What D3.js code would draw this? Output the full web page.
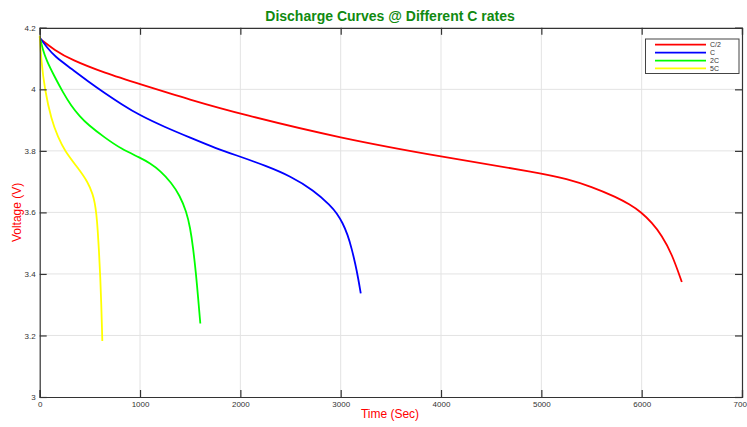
<!DOCTYPE html>
<html>
<head>
<meta charset="utf-8">
<script src="https://cdn.jsdelivr.net/npm/d3@7"></script>
<style>
  html, body { margin: 0; padding: 0; background: #fff; }
  svg { display: block; font-family: "Liberation Sans", Arial, sans-serif; }
</style>
</head>
<body>
<svg id="chart" width="747" height="427"></svg>
<script>
// Discharge time (s) and cell voltage (V) for each C rate
const seriesNames = ["C/2", "C", "2C", "5C"];
const seriesColors = ["#ff0000", "#0000ff", "#00ff00", "#ffff00"];

const halfC_t = [0, 150, 315, 648, 1000, 1500, 2000, 3000, 4000, 5000, 5250, 5500, 5750, 5875, 6000, 6100, 6200, 6300, 6400];
const halfC_v = [4.165, 4.127, 4.096, 4.053, 4.017, 3.966, 3.920, 3.841, 3.781, 3.728, 3.709, 3.684, 3.649, 3.627, 3.600, 3.567, 3.526, 3.466, 3.374];

const oneC_t = [0, 75, 150, 315, 482, 648, 814, 1000, 1250, 1500, 1750, 2000, 2250, 2500, 2730, 2900, 2960, 3020, 3070, 3110, 3145, 3175, 3200];
const oneC_v = [4.168, 4.135, 4.107, 4.067, 4.026, 3.988, 3.952, 3.915, 3.877, 3.843, 3.809, 3.781, 3.752, 3.718, 3.672, 3.622, 3.598, 3.566, 3.527, 3.482, 3.434, 3.385, 3.337];

const twoC_t = [0, 30, 66, 150, 232, 315, 400, 482, 648, 814, 1000, 1100, 1200, 1312, 1396, 1462, 1500, 1528, 1558, 1578, 1601];
const twoC_v = [4.170, 4.130, 4.095, 4.040, 3.990, 3.946, 3.912, 3.885, 3.843, 3.806, 3.778, 3.760, 3.736, 3.697, 3.655, 3.603, 3.550, 3.488, 3.400, 3.326, 3.239];

const fiveC_t = [0, 16, 50, 116, 182, 249, 382, 482, 531, 550, 565, 578, 590, 604, 614, 621, 624];
const fiveC_v = [4.174, 4.091, 4.000, 3.901, 3.845, 3.800, 3.744, 3.698, 3.657, 3.630, 3.595, 3.545, 3.480, 3.390, 3.300, 3.220, 3.182];

const seriesTimes = [halfC_t, oneC_t, twoC_t, fiveC_t];
const seriesVolts = [halfC_v, oneC_v, twoC_v, fiveC_v];

const xTicks = [0, 1000, 2000, 3000, 4000, 5000, 6000, 7000];
const yTicks = [3, 3.2, 3.4, 3.6, 3.8, 4, 4.2];

const titleText = "Discharge Curves @ Different C rates";
const xLabelText = "Time (Sec)";
const yLabelText = "Voltage (V)";

const svg = d3.select("#chart");
const plot = { left: 39.7, right: 742, top: 27.8, bottom: 397 };

const x = d3.scaleLinear().domain([0, 7000]).range([plot.left, plot.right]);
const y = d3.scaleLinear().domain([3, 4.2]).range([plot.bottom, plot.top]);

// grid lines
const grid = svg.append("g");
grid.selectAll(".gx").data(xTicks.slice(1, -1)).join("line")
  .attr("x1", d => x(d)).attr("x2", d => x(d))
  .attr("y1", plot.top).attr("y2", plot.bottom)
  .attr("stroke", "#e3e3e3").attr("stroke-width", 1);
grid.selectAll(".gy").data(yTicks.slice(1, -1)).join("line")
  .attr("x1", plot.left).attr("x2", plot.right)
  .attr("y1", d => y(d)).attr("y2", d => y(d))
  .attr("stroke", "#e3e3e3").attr("stroke-width", 1);

// curves
const line = d3.line()
  .x(d => x(d[0])).y(d => y(d[1]))
  .curve(d3.curveBasis);

seriesNames.forEach((name, i) => {
  const pts = seriesTimes[i].map((t, k) => [t, seriesVolts[i][k]]);
  svg.append("path")
    .datum(pts)
    .attr("d", line)
    .attr("fill", "none")
    .attr("stroke", seriesColors[i])
    .attr("stroke-width", 1.8);
});

// axes with inward ticks on all four sides
const tickLen = 7;
const axisColor = "#333";
const fmt = d => (d === 0 ? "0" : String(d));

const axB = d3.axisBottom(x).tickValues(xTicks).tickSize(-tickLen).tickPadding(4).tickFormat(fmt);
const axT = d3.axisTop(x).tickValues(xTicks).tickSize(-tickLen).tickFormat("");
const axL = d3.axisLeft(y).tickValues(yTicks).tickSize(-tickLen).tickPadding(4).tickFormat(fmt);
const axR = d3.axisRight(y).tickValues(yTicks).tickSize(-tickLen).tickFormat("");

function styleAxis(g) {
  g.select(".domain").attr("stroke", axisColor).attr("stroke-width", 1.2);
  g.selectAll(".tick line").attr("stroke", axisColor).attr("stroke-width", 1.2);
  g.selectAll(".tick text").attr("fill", "#333").attr("font-size", 8)
    .attr("font-family", "Liberation Sans, Arial, sans-serif");
}

svg.append("g").attr("transform", `translate(0,${plot.bottom})`).call(axB).call(styleAxis);
svg.append("g").attr("transform", `translate(0,${plot.top})`).call(axT).call(styleAxis);
svg.append("g").attr("transform", `translate(${plot.left},0)`).call(axL).call(styleAxis);
svg.append("g").attr("transform", `translate(${plot.right},0)`).call(axR).call(styleAxis);

// title and axis labels
svg.append("text")
  .attr("x", 390).attr("y", 21)
  .attr("text-anchor", "middle")
  .attr("font-size", 14).attr("font-weight", "bold")
  .attr("fill", "#108a10")
  .text(titleText);

svg.append("text")
  .attr("x", 390).attr("y", 418)
  .attr("text-anchor", "middle")
  .attr("font-size", 12)
  .attr("fill", "#ff0000")
  .text(xLabelText);

svg.append("text")
  .attr("transform", `translate(21,${(plot.top + plot.bottom) / 2}) rotate(-90)`)
  .attr("text-anchor", "middle")
  .attr("font-size", 12)
  .attr("fill", "#ff0000")
  .text(yLabelText);

// legend
const legend = svg.append("g");
legend.append("rect")
  .attr("x", 645.5).attr("y", 39).attr("width", 93.5).attr("height", 34.5)
  .attr("fill", "#fff").attr("stroke", "#444").attr("stroke-width", 1);
const rowY = [44.7, 52.7, 60.7, 68.3];
seriesNames.forEach((name, i) => {
  legend.append("line")
    .attr("x1", 655).attr("x2", 706)
    .attr("y1", rowY[i]).attr("y2", rowY[i])
    .attr("stroke", seriesColors[i]).attr("stroke-width", 1.8);
  legend.append("text")
    .attr("x", 710).attr("y", rowY[i] + 2.5)
    .attr("font-size", 7).attr("fill", "#333")
    .text(name);
});
</script>
</body>
</html>
